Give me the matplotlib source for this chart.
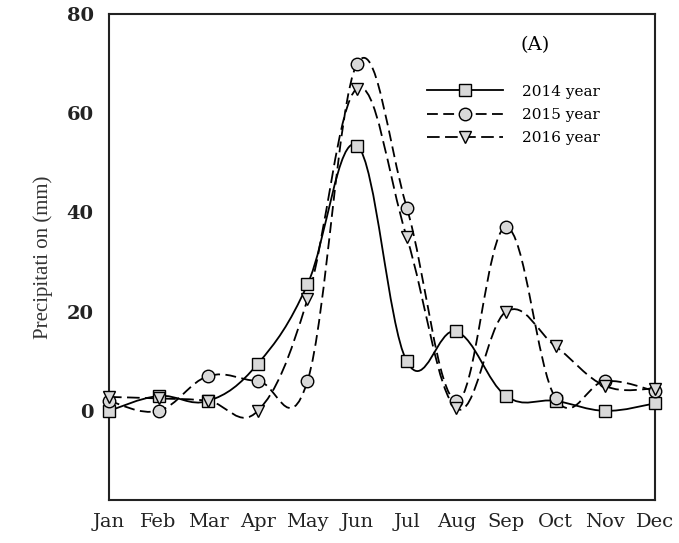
import matplotlib
matplotlib.use("Agg")
import matplotlib.pyplot as plt
import numpy as np
from matplotlib.path import Path
from matplotlib.patches import PathPatch
from matplotlib.lines import Line2D

months = ["Jan", "Feb", "Mar", "Apr", "May", "Jun",
          "Jul", "Aug", "Sep", "Oct", "Nov", "Dec"]
p2014 = [0.0, 3.0, 2.0, 9.5, 25.5, 53.5, 10.0, 16.0, 3.0, 2.0, 0.0, 1.5]
p2015 = [2.0, 0.0, 7.0, 6.0, 6.0, 70.0, 41.0, 2.0, 37.0, 2.5, 6.0, 4.0]
p2016 = [2.8, 2.5, 2.0, 0.0, 22.5, 65.0, 35.0, 0.5, 20.0, 13.0, 5.0, 4.5]

plt.rcParams['font.family'] = ['DejaVu Serif']


def smooth_path(x, y, k=0.19):
    # smoothed curve through the points, made of cubic bezier segments
    pts = np.column_stack([x, y]).astype(float)
    ext = np.vstack([pts[0], pts, pts[-1]])
    verts = [pts[0]]
    codes = [Path.MOVETO]
    for i in range(1, len(ext) - 2):
        p0, p1, p2, p3 = ext[i - 1], ext[i], ext[i + 1], ext[i + 2]
        c1 = p1 + (p2 - p0) * k
        c2 = p2 - (p3 - p1) * k
        verts += [c1, c2, p2]
        codes += [Path.CURVE4] * 3
    return Path(verts, codes)


fig = plt.figure(figsize=(6.79, 5.43), dpi=100)
ax = fig.add_axes([0.1605, 0.079, 0.804, 0.895])

x = np.arange(1, 13)
series = [
    (p2014, 's', '-', '2014 year'),
    (p2015, 'o', (0, (6, 3)), '2015 year'),
    (p2016, 'v', (0, (7, 3)), '2016 year'),
]
handles = []
for vals, mk, ls, lab in series:
    patch = PathPatch(smooth_path(x, vals), facecolor='none', edgecolor='black',
                      linewidth=1.3, linestyle=ls, clip_on=False, zorder=2)
    ax.add_patch(patch)
    ax.plot(x, vals, linestyle='none', marker=mk, markersize=9,
            markerfacecolor='#d9d9d9', markeredgecolor='black',
            markeredgewidth=1.0, clip_on=False, zorder=3)
    handles.append(Line2D([], [], color='black', linewidth=1.3, linestyle=ls,
                          marker=mk, markersize=9, markerfacecolor='#d9d9d9',
                          markeredgecolor='black', markeredgewidth=1.0, label=lab))

ax.set_xlim(1, 12)
ax.set_ylim(-18, 80)
ax.set_xticks(x)
ax.set_xticklabels(months, fontsize=14, color='#222222')
ax.set_yticks([0, 20, 40, 60, 80])
ax.set_yticklabels(['0', '20', '40', '60', '80'], fontsize=14,
                   fontweight='bold', color='#222222')
ax.tick_params(axis='both', length=0)
ax.tick_params(axis='y', pad=11)
ax.tick_params(axis='x', pad=9)
for s in ax.spines.values():
    s.set_linewidth(1.5)
    s.set_color('#222222')

ax.set_ylabel('Precipitati on (mm)', fontsize=15, color='#333333',
              labelpad=10, family='Liberation Serif')

ax.text(0.78, 0.936, '(A)', transform=ax.transAxes, fontsize=14,
        ha='center', va='center')
ax.legend(handles=handles, loc='upper left', bbox_to_anchor=(0.557, 0.883),
          frameon=False, fontsize=11, handlelength=5.0, labelspacing=0.6,
          handletextpad=1.25)

fig.savefig('out.png', dpi=100)
